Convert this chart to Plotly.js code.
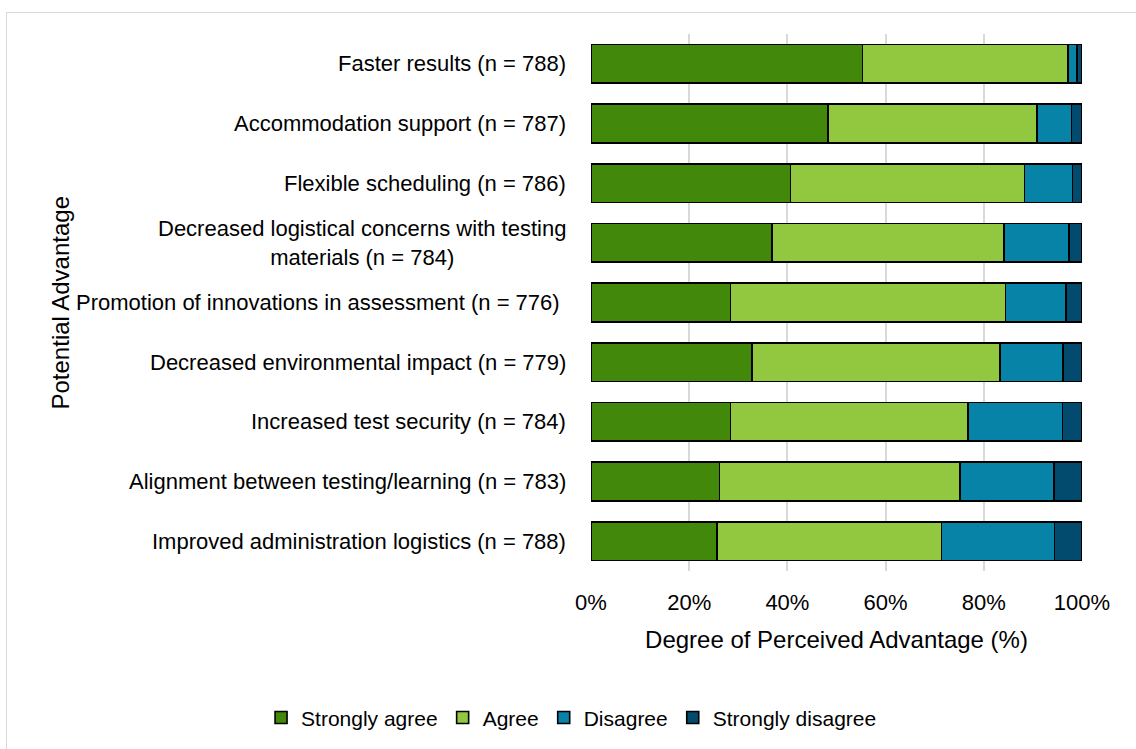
<!DOCTYPE html>
<html>
<head>
<meta charset="utf-8">
<script src="https://cdn.plot.ly/plotly-3.0.1.min.js"></script>
<style>
  html, body { margin: 0; padding: 0; background: #fff; overflow: hidden; }
  #wrap { position: relative; width: 1136px; height: 749px; }
  #chart { width: 1136px; height: 749px; }
  #frame { position: absolute; left: 6px; top: 12px; width: 1300px; height: 900px;
           border: 1.5px solid #d9d9d9; pointer-events: none; box-sizing: border-box; }
</style>
</head>
<body>
<div id="wrap">
  <div id="chart"></div>
  <div id="frame"></div>
</div>
<script>
// Categories, top to bottom
const categories = [
  "Faster results (n = 788)",
  "Accommodation support (n = 787)",
  "Flexible scheduling (n = 786)",
  "Decreased logistical concerns with testing<br>materials (n = 784)",
  "Promotion of innovations in assessment (n = 776)\u00a0",
  "Decreased environmental impact (n = 779)",
  "Increased test security (n = 784)",
  "Alignment between testing/learning (n = 783)",
  "Improved administration logistics (n = 788)"
];
// Percentages per response level
const stronglyAgree    = [55.3, 48.3, 40.6, 36.9, 28.4, 32.8, 28.4, 26.2, 25.6];
const agree            = [41.9, 42.5, 47.7, 47.2, 56.0, 50.5, 48.4, 48.9, 45.8];
const disagree         = [ 1.8,  7.1,  9.8, 13.3, 12.4, 12.8, 19.2, 19.2, 23.0];
const stronglyDisagree = [ 1.0,  2.1,  1.9,  2.6,  3.2,  3.9,  4.0,  5.7,  5.6];

const seriesNames = ["Strongly agree", "Agree", "Disagree", "Strongly disagree"];
const seriesValues = [stronglyAgree, agree, disagree, stronglyDisagree];
const seriesColors = ["#42880a", "#92c740", "#0783a8", "#024b6f"];

const yKeys = categories.map((c, i) => "c" + i);

const traces = seriesValues.map((vals, k) => ({
  type: "bar",
  orientation: "h",
  name: seriesNames[k],
  x: vals,
  y: yKeys,
  marker: { color: seriesColors[k], line: { color: "#000000", width: 1.6 } },
  hovertemplate: "%{x:.1f}%<extra>" + seriesNames[k] + "</extra>"
}));

const FONT = "Liberation Sans, Arial, sans-serif";

const annotations = categories.map((c, i) => ({
  text: c,
  xref: "paper", x: 0, xanchor: "right", xshift: -23,
  yref: "y", y: yKeys[i], yanchor: "middle",
  align: "center",
  showarrow: false,
  font: { family: FONT, size: 22, color: "#000" }
}));
annotations.push({
  text: "Potential Advantage",
  xref: "paper", x: 0, xanchor: "center", xshift: -531,
  yref: "paper", y: 0.5, yanchor: "middle",
  textangle: -90,
  showarrow: false,
  font: { family: FONT, size: 24, color: "#000" }
});

const layout = {
  width: 1136, height: 749,
  margin: { l: 591, r: 54, t: 34, b: 177 },
  paper_bgcolor: "#ffffff",
  plot_bgcolor: "#ffffff",
  barmode: "stack",
  bargap: 0.355,
  showlegend: true,
  font: { family: FONT, size: 22, color: "#000" },
  xaxis: {
    range: [0, 100],
    tickvals: [0, 20, 40, 60, 80, 100],
    ticktext: ["0%", "20%", "40%", "60%", "80%", "100%"],
    ticks: "",
    ticklabelstandoff: 16,
    showgrid: true, gridcolor: "#d9d9d9", gridwidth: 1.5,
    zeroline: false, showline: false,
    tickfont: { family: FONT, size: 22, color: "#000" },
    title: { text: "Degree of Perceived Advantage (%)", font: { family: FONT, size: 24, color: "#000" }, standoff: 17 },
    fixedrange: true
  },
  yaxis: {
    autorange: "reversed",
    showticklabels: false,
    ticks: "",
    showgrid: false, zeroline: false, showline: false,
    fixedrange: true
  },
  legend: {
    orientation: "h",
    x: -0.672, xanchor: "left",
    y: -0.271, yanchor: "middle",
    traceorder: "normal",
    itemwidth: 30,
    font: { family: FONT, size: 21, color: "#000" },
    bgcolor: "rgba(0,0,0,0)"
  },
  annotations: annotations
};

Plotly.newPlot("chart", traces, layout, { displayModeBar: false });
</script>
</body>
</html>
